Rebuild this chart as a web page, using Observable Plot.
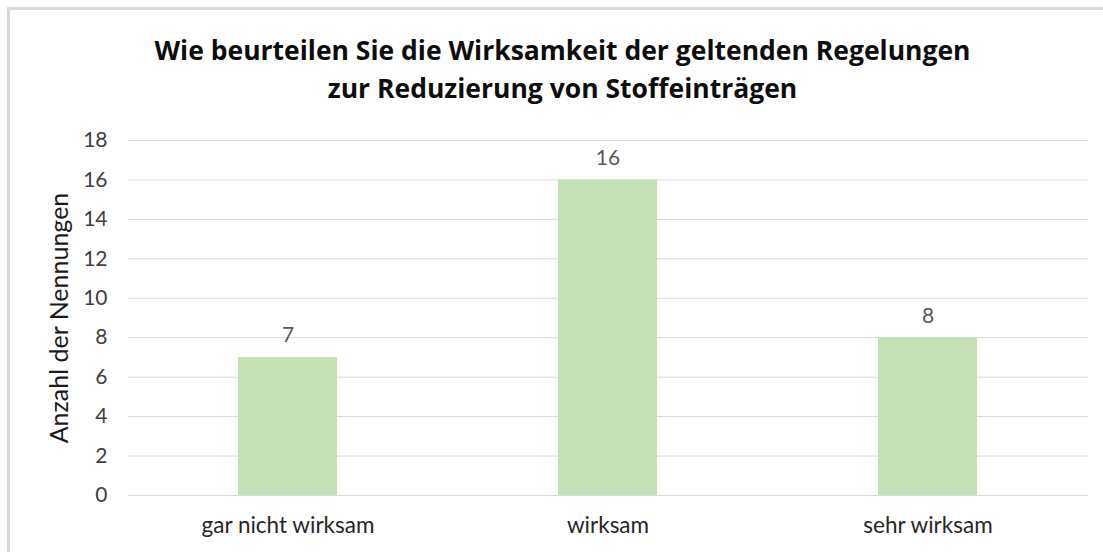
<!DOCTYPE html>
<html>
<head>
<meta charset="utf-8">
<script src="https://cdn.jsdelivr.net/npm/d3@7"></script>
<script src="https://cdn.jsdelivr.net/npm/@observablehq/plot@0.6"></script>
<style>
  html, body { margin: 0; padding: 0; background: #fff; overflow: hidden; width: 1103px; height: 552px; }
  #frame { position: absolute; left: 7px; top: 7px; width: 1200px; height: 700px;
           border-top: 3px solid #d9d9d9; border-left: 3px solid #d9d9d9; box-sizing: border-box; pointer-events: none; }
  #title { position: relative; height: 120px; width: 1103px; box-sizing: border-box; padding-top: 31px;
           font-family: "Open Sans", Lato, sans-serif; font-weight: bold; font-size: 26.5px; line-height: 38px;
           text-align: center; color: #0d0d0d; padding-left: 22px; }
  #chart svg { display: block; }
  #chart g[aria-label="y-axis label"] text { font-size: 25px; fill: #1a1a1a; }
</style>
</head>
<body>
<div id="frame"></div>
<div id="title">Wie beurteilen Sie die Wirksamkeit der geltenden Regelungen<br>zur Reduzierung von Stoffeinträgen</div>
<div id="chart"></div>
<script>
const categories = ["gar nicht wirksam", "wirksam", "sehr wirksam"];
const values = [7, 16, 8];
const yTicks = [0, 2, 4, 6, 8, 10, 12, 14, 16, 18];
const yLabel = "Anzahl der Nennungen";

const data = categories.map((c, i) => ({category: c, value: values[i]}));

const chart = Plot.plot({
  width: 1103,
  height: 432,
  marginTop: 20,
  marginBottom: 57,
  marginLeft: 128,
  marginRight: 15,
  style: {fontFamily: "Lato, 'Noto Sans', sans-serif", fontSize: "21px", color: "#404040", background: "transparent"},
  x: {domain: categories, paddingInner: 0.69, paddingOuter: 0.345, label: null},
  y: {domain: [0, 18], label: null},
  marks: [
    Plot.gridY(yTicks, {stroke: "#d9d9d9", strokeOpacity: 1, strokeWidth: 1}),
    Plot.barY(data, {x: "category", y: "value", fill: "#C5E0B4"}),
    Plot.text(data, {x: "category", y: "value", text: d => String(d.value), lineAnchor: "bottom", dy: -15, fill: "#595959", fontSize: 21}),
    Plot.axisY(yTicks, {tickSize: 0, tickPadding: 21, label: yLabel, labelAnchor: "center", labelArrow: "none", labelOffset: 78, fontSize: 21, color: "#404040"}),
    Plot.axisX({tickSize: 0, tickPadding: 22, label: null, fontSize: 22.5, color: "#262626"})
  ]
});
document.getElementById("chart").appendChild(chart);
</script>
</body>
</html>
